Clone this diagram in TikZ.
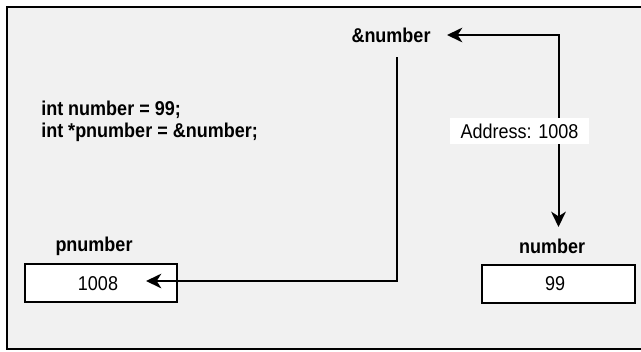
\documentclass[tikz,border=0pt]{standalone}
\usepackage{fontspec}
\setmainfont[FakeStretch=0.9]{Liberation Sans}
\usetikzlibrary{arrows.meta}
\definecolor{bg}{RGB}{241,241,241}
\begin{document}
\begin{tikzpicture}[x=0.75pt,y=-0.75pt,
  lbl/.style={font=\fontsize{15pt}{18pt}\selectfont\bfseries, inner sep=0pt},
  val/.style={font=\fontsize{15pt}{18pt}\selectfont, inner sep=0pt},
  cell/.style={draw, line width=1.5pt, fill=white, minimum width=114pt, minimum height=28.5pt, inner sep=0pt},
  link/.style={line width=1.5pt, -{Stealth[length=11.5pt,width=11pt,inset=3.5pt]}},
  dlink/.style={line width=1.5pt, {Stealth[length=11.5pt,width=11pt,inset=3.5pt]}-{Stealth[length=11.5pt,width=11pt,inset=3.5pt]}}]
\useasboundingbox (0,0) rectangle (641,351);
\draw[line width=1.8pt, fill=bg] (7,7) rectangle (646,349);
\node[lbl] (amp) at (391,35) {\&number};
\node[lbl, anchor=base west] (code1) at (41,115) {int number = 99;};
\node[lbl, anchor=base west] (code2) at (41,137) {int *pnumber = \&number;};
\node[lbl] (plbl) at (94,246) {pnumber};
\node[cell] (pbox) at (101,283) {};
\node[val] (pval) at (98,284) {1008};
\node[lbl] (nlbl) at (552,246) {number};
\node[cell, minimum width=114.75pt] (nbox) at (558.5,283.5) {};
\node[val] (nval) at (555,284) {99};
\coordinate (start1) at (397,57);
\coordinate (bend1) at (397,281);
\coordinate (ptip) at (146,281);
\coordinate (atip) at (447,35);
\coordinate (bend2) at (558.5,35);
\coordinate (ntip) at (558.5,227);
\draw[link] (start1) -- (bend1) -- (ptip);
\draw[dlink] (atip) -- (bend2) -- (ntip);
\node[val, fill=white, minimum width=104.25pt, minimum height=19.5pt] (addr) at (519.5,131) {Address: 1008};
\end{tikzpicture}
\end{document}
